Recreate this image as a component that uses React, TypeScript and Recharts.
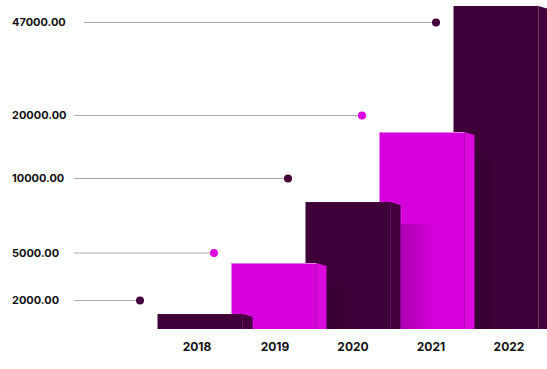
import React from 'react';
import { ComposedChart, Bar, Line, XAxis, YAxis } from 'recharts';

// chart values
const years = ['2018', '2019', '2020', '2021', '2022'];
const barValues = [1050, 4370, 8420, 17380, 51800];
const markerValues = [2000, 5000, 10000, 20000, 47000];
const tickValues = [2000, 5000, 10000, 20000, 47000];

const DARK = '#3f0039';
const MAGENTA = '#d500dc';
const barColors = [DARK, MAGENTA];
const sideColors = ['#44003d', '#d80ade'];
const dotColors = ['#43003b', '#dd00e0'];

const WIDTH = 547;
const HEIGHT = 369;
const PLOT_H = 329;
const FONT = 'Inter, "Noto Sans", sans-serif';

// the infographic uses an uneven value axis: each level sits at its own height
const levelValues = [0, 2000, 5000, 10000, 20000, 47000];
const levelHeights = [0, 28.5, 76, 150.5, 213.5, 306.5];

function stepScale(): any {
  let dom: number[] = [0, 1];
  let rng: number[] = [0, 1];
  const frac = (v: number) => {
    let i = 1;
    while (i < levelValues.length - 1 && v > levelValues[i]) i++;
    const v0 = levelValues[i - 1];
    const v1 = levelValues[i];
    const h0 = levelHeights[i - 1];
    const h1 = levelHeights[i];
    return (h0 + ((v - v0) / (v1 - v0)) * (h1 - h0)) / PLOT_H;
  };
  const scale: any = (v: number) => rng[0] + frac(v) * (rng[1] - rng[0]);
  scale.domain = (d?: number[]) => {
    if (d === undefined) return [...dom];
    dom = [...d];
    return scale;
  };
  scale.range = (r?: number[]) => {
    if (r === undefined) return [...rng];
    rng = [...r];
    return scale;
  };
  scale.copy = () => stepScale().domain(dom).range(rng);
  scale.ticks = () => levelValues.slice(1);
  scale.tickFormat = () => (v: number) => String(v);
  scale.nice = () => scale;
  scale.clamp = () => scale;
  scale.invert = (px: number) => {
    const f = (px - rng[0]) / (rng[1] - rng[0]);
    return f * dom[1];
  };
  return scale;
}

// drawn last-to-first so the earlier steps sit on top of the later ones
const rows = years
  .map((year, i) => ({ year, bar: barValues[i], marker: markerValues[i] }))
  .reverse();

const colorIdx = (year: string) => years.indexOf(year) % 2;

const renderBar = (props: any) => {
  const { x, y, width, height, payload } = props;
  if (height == null || height <= 0) return <g />;
  const c = colorIdx(payload.year);
  const grow = 10.5;
  const side = 10;
  const left = x - grow;
  const right = x + width + grow;
  const faceR = right - side;
  const bottom = y + height;
  const shadowTop = y + 22;
  return (
    <g>
      {bottom - shadowTop > 0 && (
        <rect x={right} y={shadowTop} width={34} height={bottom - shadowTop} fill="url(#castShadow)" />
      )}
      <rect x={left} y={y} width={faceR - left} height={height} fill={barColors[c]} />
      <polygon
        points={`${faceR},${y} ${right},${y + 3} ${right},${bottom} ${faceR},${bottom}`}
        fill={sideColors[c]}
      />
      {c === 1 && <line x1={left} x2={faceR} y1={y + 0.5} y2={y + 0.5} stroke="#e57ce9" strokeWidth={1} />}
    </g>
  );
};

const renderMarker = (props: any) => {
  const { cx, cy, payload } = props;
  if (cx == null || cy == null) return <g key={`m-${payload?.year}`} />;
  const c = colorIdx(payload.year);
  const dotX = cx - 65;
  const startX = payload.marker === markerValues[markerValues.length - 1] ? 84 : 74;
  return (
    <g key={`m-${payload.year}`}>
      <line x1={startX} x2={dotX} y1={cy} y2={cy} stroke="#a8a8a8" strokeWidth={1} />
      <circle cx={dotX} cy={cy} r={4} fill={dotColors[c]} />
    </g>
  );
};

const YearTick = (props: any) => {
  const { x, y, payload } = props;
  const mid = 353;
  const spreadX = mid + (x - mid) * (78 / 74);
  return (
    <text
      x={spreadX}
      y={y}
      dy="0.71em"
      textAnchor="middle"
      fontFamily={FONT}
      fontSize={12}
      fontWeight={700}
      fill="#111"
    >
      {payload.value}
    </text>
  );
};

const ValueTick = (props: any) => {
  const { y, payload } = props;
  return (
    <text
      x={12}
      y={y}
      dy="0.355em"
      textAnchor="start"
      fontFamily={FONT}
      fontSize={11}
      fontWeight={700}
      fill="#111"
    >
      {Number(payload.value).toFixed(2)}
    </text>
  );
};

export default function App() {
  return (
    <div style={{ position: 'absolute', left: 0, top: 0, width: WIDTH, height: HEIGHT, background: '#fff' }}>
      <ComposedChart
        width={WIDTH}
        height={HEIGHT}
        data={rows}
        barCategoryGap={0}
        margin={{ top: 0, right: 9, bottom: 0, left: 0 }}
      >
        <defs>
          <linearGradient id="castShadow" x1="0" y1="0" x2="1" y2="0">
            <stop offset="0%" stopColor="#1a0016" stopOpacity={0.22} />
            <stop offset="100%" stopColor="#1a0016" stopOpacity={0} />
          </linearGradient>
        </defs>
        <XAxis
          dataKey="year"
          reversed
          height={40}
          axisLine={false}
          tickLine={false}
          tickSize={0}
          tickMargin={13}
          interval={0}
          tick={YearTick}
        />
        <YAxis
          type="number"
          scale={stepScale()}
          domain={[0, 53000]}
          ticks={tickValues}
          width={168}
          axisLine={false}
          tickLine={false}
          interval={0}
          tick={ValueTick}
        />
        <Bar dataKey="bar" shape={renderBar} isAnimationActive={false} />
        <Line
          dataKey="marker"
          stroke="none"
          dot={renderMarker}
          activeDot={false}
          isAnimationActive={false}
        />
      </ComposedChart>
    </div>
  );
}
